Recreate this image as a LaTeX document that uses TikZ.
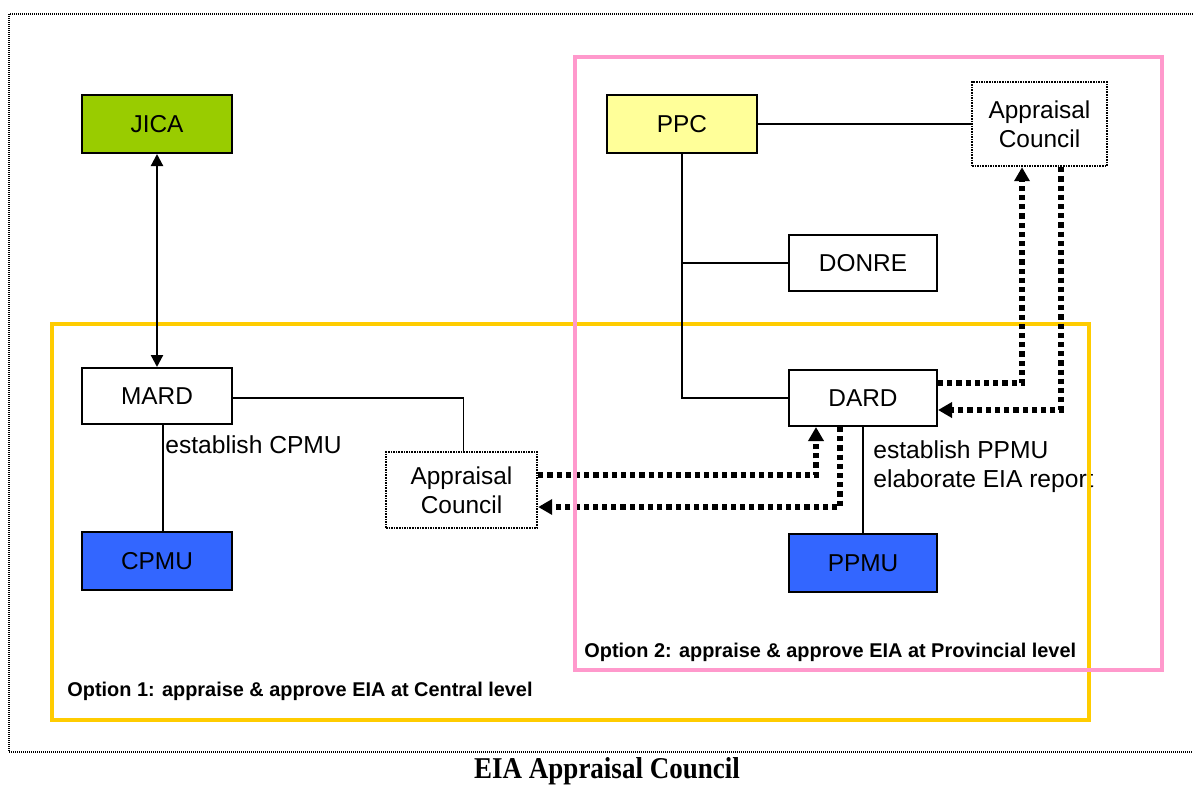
\documentclass[tikz,border=0pt]{standalone}
\usepackage{fontspec}
\setmainfont{Liberation Sans}
\newfontfamily\titlefont{Liberation Serif}
\usetikzlibrary{arrows.meta}
\definecolor{jicagreen}{HTML}{99CC00}
\definecolor{ppcyellow}{HTML}{FFFF99}
\definecolor{pmublue}{HTML}{3366FF}
\definecolor{frameyellow}{HTML}{FFCC00}
\definecolor{framepink}{HTML}{FF99CC}
\tikzset{
  box/.style={draw=black, line width=1pt, inner sep=0pt, font=\fontsize{12.2}{14.5}\selectfont, align=center},
  councilbox/.style={box, dash pattern=on 0.8pt off 0.5pt, line width=1.2pt},
  conn/.style={line width=0.7pt},
  thickdot/.style={line width=2.7pt, dash pattern=on 2.6pt off 2pt, -{Triangle[length=7pt,width=7.5pt]}},
  lbl/.style={font=\fontsize{12.3}{14.8}\selectfont, anchor=west, inner sep=0pt, align=left},
  optlbl/.style={font=\bfseries\fontsize{9.95}{12}\selectfont, anchor=west, inner sep=0pt},
  frame/.style={line width=2.1pt}
}
\begin{document}
\begin{tikzpicture}[x=0.5pt,y=-0.5pt]
\useasboundingbox (0,0) rectangle (1193,784);
% outer dotted border
\draw[dash pattern=on 0.5pt off 0.5pt, line width=0.8pt] (1193,14) -- (9,14) -- (9,752) -- (1193,752);
% labels under the yellow frame
\node[lbl] (estc) at (165,445) {establish CPMU};
\node[lbl, anchor=north west] (estp) at (873,440) {establish PPMU\\elaborate EIA report};
% yellow frame
\draw[frame, frameyellow] (52,324) rectangle (1089,720);
% boxes
\node[box, fill=jicagreen, minimum width=75pt, minimum height=29pt] (jica) at (157,124) {JICA};
\node[box, fill=white, minimum width=75pt, minimum height=28pt] (mard) at (157,396) {MARD};
\node[box, fill=pmublue, minimum width=75pt, minimum height=29pt] (cpmu) at (157,561) {CPMU};
\node[councilbox, minimum width=75.5pt, minimum height=38pt] (ac1) at (461.5,490) {Appraisal\\Council};
\node[box, fill=ppcyellow, minimum width=75pt, minimum height=29pt] (ppc) at (682,124) {PPC};
\node[councilbox, minimum width=67.5pt, minimum height=42pt] (ac2) at (1039.5,124) {Appraisal\\Council};
\node[box, fill=white, minimum width=74pt, minimum height=28pt] (donre) at (863,263) {DONRE};
\node[box, fill=white, minimum width=74pt, minimum height=28pt] (dard) at (863,398) {DARD};
\node[box, fill=pmublue, minimum width=74pt, minimum height=29pt] (ppmu) at (863,563) {PPMU};
% solid connectors
\draw[line width=1.1pt, {Triangle[length=6pt,width=6pt]}-{Triangle[length=6pt,width=6pt]}] (jica) -- (mard);
\draw[conn] (mard.east |- 0,398) -| ([xshift=1pt]ac1.north);
\draw[conn] ([xshift=3pt]mard.south) -- ([xshift=3pt]cpmu.north);
\draw[conn] (ppc.east) -- (ac2.west);
\draw[conn] (ppc.south) |- (dard.west);
\draw[conn] (ppc.south |- donre.west) -- (donre.west);
\draw[conn] (dard.south) -- (ppmu.north);
% thick dotted arrows
\draw[thickdot] (ac1.east |- 0,475) -| ([xshift=-23.5pt]dard.south);
\draw[thickdot] ([xshift=-11.5pt]dard.south) |- (ac1.east |- 0,507);
\draw[thickdot] (dard.east |- 0,383) -| ([xshift=-8.75pt]ac2.south);
\draw[thickdot] ([xshift=10.75pt]ac2.south) |- (dard.east |- 0,410);
% pink frame
\draw[frame, framepink] (575,57) rectangle (1162,670);
% option labels
\node[optlbl] (opt2) at (584,652) {Option 2: appraise \& approve EIA at Provincial level};
\node[optlbl] (opt1) at (67,691) {Option 1: appraise \& approve EIA at Central level};
% title
\node[font=\titlefont\bfseries\fontsize{13.5}{16}\selectfont, inner sep=0pt, yscale=1.12] (title) at (607,771) {EIA Appraisal Council};
\end{tikzpicture}
\end{document}
